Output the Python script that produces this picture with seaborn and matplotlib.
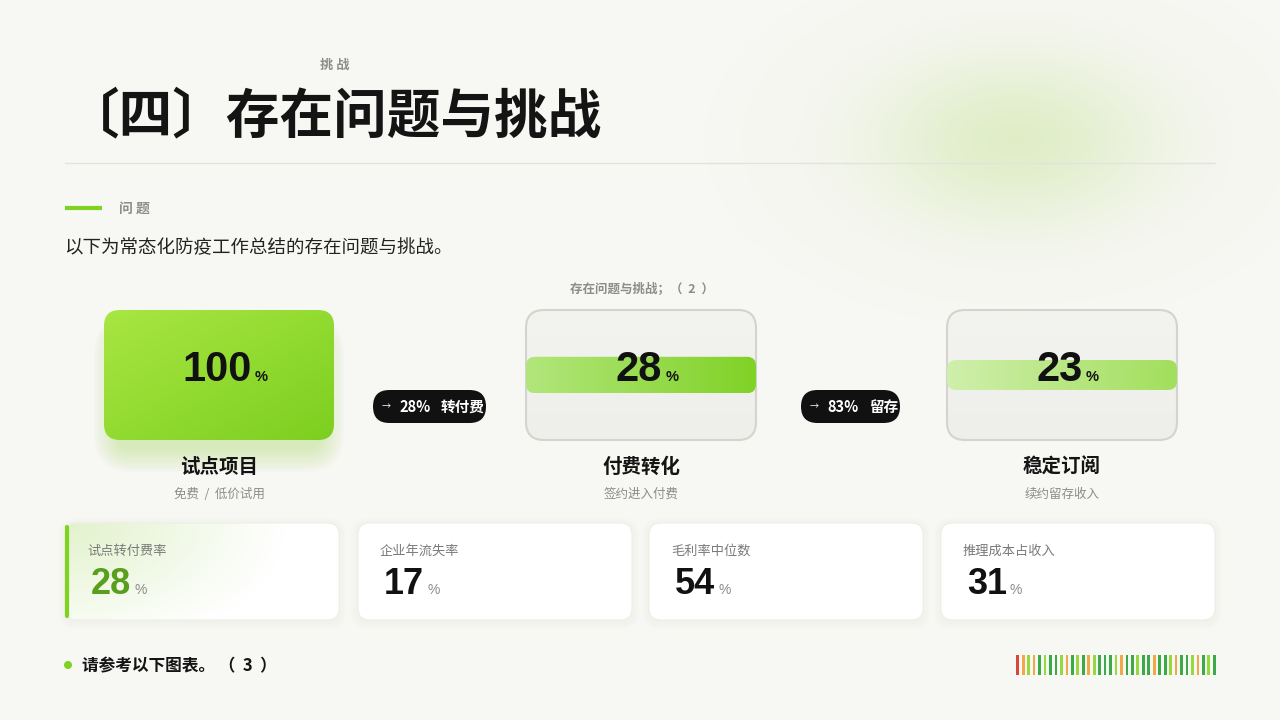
import numpy as np
import matplotlib
matplotlib.use("Agg")
import matplotlib.pyplot as plt
import seaborn as sns
from matplotlib.patches import FancyBboxPatch, Circle
from matplotlib.colors import to_rgb

# ---- data ----
stage_names = ["试点项目", "付费转化", "稳定订阅"]
stage_subs = ["免费  /  低价试用", "签约进入付费", "续约留存收入"]
stage_values = [100, 28, 23]
flow_rates = [28, 83]
flow_labels = ["转付费", "留存"]
kpi_labels = ["试点转付费率", "企业年流失率", "毛利率中位数", "推理成本占收入"]
kpi_values = [28, 17, 54, 31]
barcode_colors = ["#d9463e", "#f0a848", "#96d83e", "#f0a848", "#3daa4a", "#96d83e",
                  "#3daa4a", "#3daa4a", "#96d83e", "#f0a848", "#3daa4a", "#96d83e",
                  "#3daa4a", "#f0a848", "#96d83e", "#3daa4a", "#3daa4a", "#3daa4a",
                  "#96d83e", "#f0a848", "#3daa4a", "#3daa4a", "#96d83e", "#3daa4a",
                  "#3daa4a", "#f0a848", "#3daa4a", "#3daa4a", "#96d83e", "#f0a848",
                  "#3daa4a", "#3daa4a", "#96d83e", "#f0a848", "#3daa4a", "#96d83e",
                  "#3daa4a"]

sns.set_theme(style="white")
plt.rcParams['font.family'] = ['Noto Sans CJK SC', 'DejaVu Sans']
NUM_FONT = ['Liberation Sans', 'Noto Sans CJK SC']

BG = "#f7f7f3"
fig = plt.figure(figsize=(12.8, 7.2), dpi=100, facecolor=BG)
ax = fig.add_axes([0, 0, 1, 1])
ax.set_facecolor(BG)
renderer = fig.canvas.get_renderer()


def gradient_box(x, y, w, h, c0, c1, radius, mode="diag", zorder=2, ec="none", lw=0):
    patch = FancyBboxPatch((x, y), w, h, boxstyle=f"round,pad=0,rounding_size={radius}",
                           fc="none", ec=ec, lw=lw, zorder=zorder + 0.1)
    ax.add_patch(patch)
    xx, yy = np.meshgrid(np.linspace(0, 1, 200), np.linspace(0, 1, 100))
    if mode == "diag":
        t = (xx + yy) / 2
    elif mode == "h":
        t = xx
    elif mode == "corner":
        t = np.clip(np.hypot(xx * 1.0, yy * 0.6) / 0.8, 0, 1)
    else:
        t = yy
    a = np.append(np.array(to_rgb(c0)), 1.0)
    b = np.append(np.array(to_rgb(c1)), 1.0)
    img = a[None, None, :] * (1 - t[..., None]) + b[None, None, :] * t[..., None]
    im = ax.imshow(img, extent=[x, x + w, y + h, y], origin="upper", aspect="auto",
                   zorder=zorder, interpolation="bicubic")
    im.set_clip_path(patch)
    return patch


def text_width(t):
    return t.get_window_extent(renderer).width


def num_with_pct(x, y, value, size, pct_size, color, pct_color, ha="center", zorder=6, gap=3):
    t = ax.text(x, y, str(value), fontsize=size, fontweight="bold", color=color,
                family=NUM_FONT, ha=ha, va="baseline", zorder=zorder)
    w = text_width(t)
    right = x + w / 2 if ha == "center" else x + w
    ax.text(right + gap, y, "%", fontsize=pct_size, color=pct_color, family=NUM_FONT,
            fontweight="bold" if ha == "center" else "normal",
            ha="left", va="baseline", zorder=zorder)


# ---- background glow (top right) ----
gx, gy = np.meshgrid(np.arange(600, 1280), np.arange(0, 420))
glow = np.exp(-(((gx - 1015) / 100.0) ** 2 + ((gy - 140) / 60.0) ** 2) / 2)
glow_img = np.zeros(gx.shape + (4,))
glow_img[..., :3] = to_rgb("#c8e49c")
glow_img[..., 3] = 0.5 * glow
ax.imshow(glow_img, extent=[600, 1280, 420, 0], origin="upper", aspect="auto", zorder=0)

# ---- header ----
ax.text(335, 65, "挑 战", fontsize=9.5, fontweight="bold", color="#8c8c8c", ha="center", va="center")
ax.text(66, 117, "〔四〕存在问题与挑战", fontsize=38.6, fontweight="bold", color="#141414",
        ha="left", va="center")
ax.plot([65, 1215], [163, 163], color="#e3e3dd", lw=1, zorder=1)
ax.plot([65, 102], [208, 208], color="#7ed321", lw=3, solid_capstyle="butt", zorder=2)
ax.text(119, 209, "问 题", fontsize=10, fontweight="bold", color="#8c8c8c", ha="left", va="center")
ax.text(64, 248, "以下为常态化防疫工作总结的存在问题与挑战。", fontsize=13.3, color="#222222",
        ha="left", va="center")
ax.text(642, 289, "存在问题与挑战；（  2  ）", fontsize=9, fontweight="bold", color="#8c8c8c",
        ha="center", va="center")

# ---- funnel stages ----
box_x = [104, 526, 947]
box_w, box_top, box_h = 230, 310, 130
box_cy = box_top + box_h / 2
for i, (bx, val) in enumerate(zip(box_x, stage_values)):
    cx = bx + box_w / 2
    if i == 0:
        # soft green shadow under the first card
        for k in range(10):
            sh = FancyBboxPatch((bx + 14, box_top + 30), box_w - 28, box_h - 22,
                                boxstyle=f"round,pad={2 + k * 2.4},rounding_size={16 + k * 2.4}",
                                fc="#9ad64a", ec="none", alpha=0.035, zorder=1)
            ax.add_patch(sh)
        gradient_box(bx, box_top, box_w, box_h, "#a9e643", "#7ccf1f", 16, mode="diag", zorder=2)
    else:
        gradient_box(bx, box_top, box_w, box_h, "#f3f3ef", "#eeeeea", 18, mode="v", zorder=2,
                     ec="#d4d4ce", lw=1.5)
        band_h = box_h * val / 100
        c0, c1 = ("#b2e67c", "#80d226") if i == 1 else ("#cfefac", "#a2df5c")
        gradient_box(bx, box_cy - band_h / 2, box_w, band_h, c0, c1, 9, mode="h", zorder=3)
    num_with_pct(cx - 2, 381, val, 30, 10.5, "#111111", "#111111")
    ax.text(cx, 467, stage_names[i], fontsize=14, fontweight="bold", color="#141414",
            ha="center", va="center")
    ax.text(cx, 494, stage_subs[i], fontsize=9, color="#8c8c8c", ha="center", va="center")

# ---- flow pills ----
pill_x = [373, 801]
pill_w = [113, 99]
for px, pw, rate, lab in zip(pill_x, pill_w, flow_rates, flow_labels):
    pill = FancyBboxPatch((px, 390), pw, 33, boxstyle="round,pad=0,rounding_size=16.5",
                          fc="#111111", ec="none", zorder=4)
    ax.add_patch(pill)
    ax.text(px + 13, 407, "→", fontsize=6.5, color="white", ha="center", va="center", zorder=5)
    ax.text(px + 26, 407, f"{rate}%", fontsize=10.5, fontweight="bold", color="white",
            ha="left", va="center", zorder=5)
    ax.text(px + 68, 407, lab, fontsize=10.5, fontweight="bold", color="white",
            ha="left", va="center", zorder=5)

# ---- KPI cards ----
card_x = [65, 358, 649, 941]
card_w, card_top, card_h = 274, 523, 97
for i, (cx0, lab, val) in enumerate(zip(card_x, kpi_labels, kpi_values)):
    for k in range(4):
        sh = FancyBboxPatch((cx0, card_top + 2), card_w, card_h,
                            boxstyle=f"round,pad={1 + k * 2},rounding_size={12 + k * 2}",
                            fc="#dcdcd4", ec="none", alpha=0.04, zorder=1)
        ax.add_patch(sh)
    if i == 0:
        gradient_box(cx0, card_top, card_w, card_h, "#e2f2cc", "#ffffff", 12, mode="corner",
                     zorder=2, ec="#eeeee8", lw=0.8)
        ax.plot([66.5, 66.5], [card_top + 4, card_top + card_h - 4], color="#7ed321",
                lw=3, solid_capstyle="round", zorder=4)
        vcol = "#5a9e1e"
    else:
        gradient_box(cx0, card_top, card_w, card_h, "#ffffff", "#ffffff", 12, mode="v",
                     zorder=2, ec="#eeeee8", lw=0.8)
        vcol = "#111111"
    ax.text(cx0 + 22, 551, lab, fontsize=9.5, color="#7a7a7a", ha="left", va="center", zorder=5)
    num_with_pct(cx0 + 26, 594, val, 26, 10, vcol, "#8c8c8c", ha="left", gap=3)

# ---- footer ----
ax.add_patch(Circle((68, 665), 4, fc="#7ed321", ec="none", zorder=3))
ax.text(82, 666, "请参考以下图表。 （  3  ）", fontsize=12, fontweight="bold", color="#141414",
        ha="left", va="center")

ax.set_xlim(0, 1280)
ax.set_ylim(720, 0)
ax.axis("off")

# barcode strip drawn with seaborn
bax = fig.add_axes([1015 / 1280, (720 - 675) / 720, 202 / 1280, 20 / 720])
n = len(barcode_colors)
idx = [str(i) for i in range(n)]
sns.barplot(x=idx, y=[1] * n, hue=idx, palette=barcode_colors, width=0.5,
            legend=False, ax=bax, saturation=1, linewidth=0, dodge=False)
bax.set_xlim(-0.5, n - 0.5)
bax.set_ylim(0, 1)
bax.axis("off")

fig.savefig("out.png", dpi=100, facecolor=BG)
